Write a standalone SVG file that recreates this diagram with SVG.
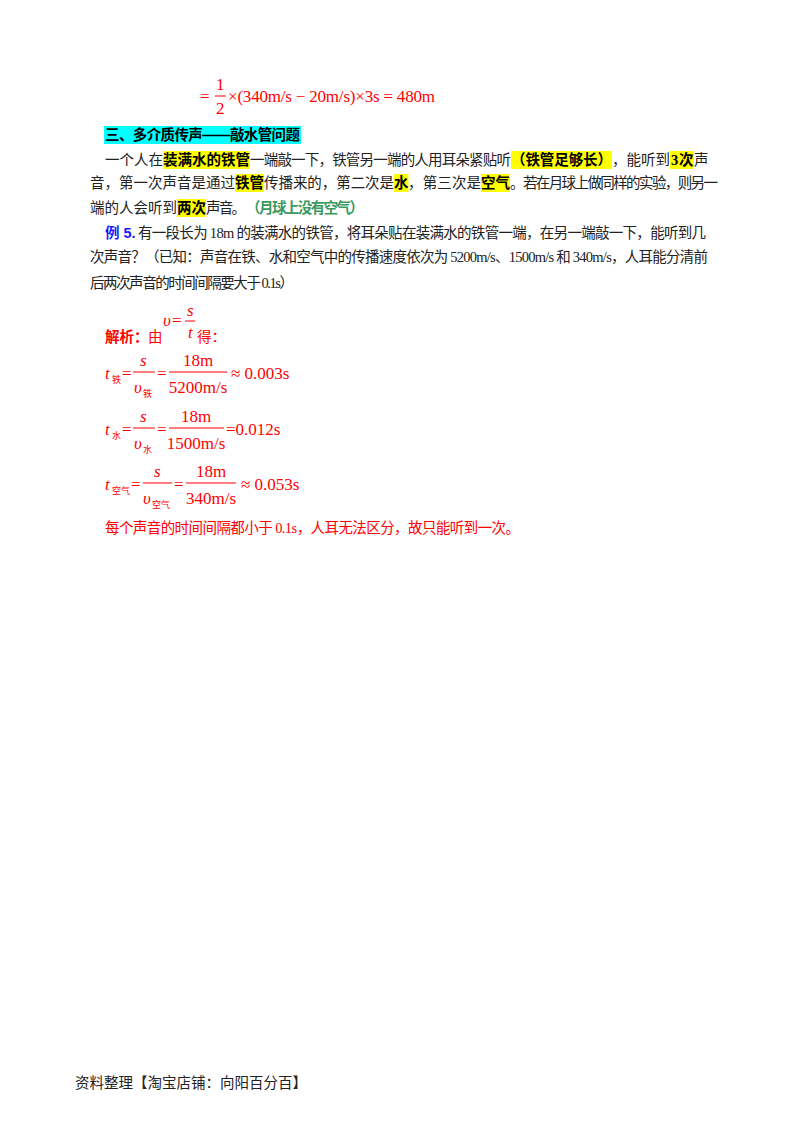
<svg xmlns="http://www.w3.org/2000/svg" width="800" height="1132" viewBox="0 0 800 1132">
<style>
.b{font-family:"Liberation Serif","Noto Sans CJK SC",sans-serif;font-size:14.5px;fill:#222}
.k{font-weight:bold;fill:#000;font-family:"Liberation Sans","Noto Sans CJK SC",sans-serif}
.m{font-family:"Liberation Serif",serif;font-size:17px;fill:#f00}
.i{font-style:italic}
.r{fill:#f00}
.sub{font-family:"Noto Sans CJK SC",sans-serif;font-size:9px;fill:#f00}
.hl{fill:#ffff00}
.bar{stroke:#f00;stroke-width:1}
</style>
<rect width="800" height="1132" fill="#fff"/>
<g id="formula0" class="m">
<text x="200" y="102">=</text>
<text x="216" y="90">1</text>
<line class="bar" x1="215" y1="96" x2="226" y2="96"/>
<text x="216" y="114">2</text>
<text x="228" y="102" textLength="207">×(340m/s − 20m/s)×3s = 480m</text>
</g>
<g id="heading">
<rect x="104" y="126" width="197" height="18" fill="#00ffff"/>
<text class="b k" x="105" y="140" textLength="195">三、多介质传声——敲水管问题</text>
</g>
<g id="para1">
<rect class="hl" x="163" y="151" width="87" height="18"/>
<rect class="hl" x="511" y="151" width="101" height="18"/>
<rect class="hl" x="670" y="151" width="24" height="18"/>
<rect class="hl" x="235" y="174" width="29" height="18"/>
<rect class="hl" x="394" y="174" width="14.5" height="18"/>
<rect class="hl" x="481" y="174" width="29" height="18"/>
<rect class="hl" x="177" y="199" width="29" height="18"/>
<text class="b" x="105" y="165">一个人在</text>
<text class="b k" x="163" y="165" textLength="87">装满水的铁管</text>
<text class="b" x="250" y="165" textLength="261">一端敲一下，铁管另一端的人用耳朵紧贴听</text>
<text class="b k" x="511" y="165" textLength="101">（铁管足够长）</text>
<text class="b" x="612" y="165" textLength="58">，能听到</text>
<text class="b k" x="671" y="165" style="font-family:'Liberation Serif',serif">3</text>
<text class="b k" x="679" y="165">次</text>
<text class="b" x="694" y="165">声</text>
<text class="b" x="90" y="188" textLength="145">音，第一次声音是通过</text>
<text class="b k" x="235" y="188" textLength="29">铁管</text>
<text class="b" x="264" y="188" textLength="130">传播来的，第二次是</text>
<text class="b k" x="394" y="188">水</text>
<text class="b" x="408" y="188" textLength="73">，第三次是</text>
<text class="b k" x="481" y="188" textLength="29">空气</text>
<text class="b" x="510" y="188" textLength="208">。若在月球上做同样的实验，则另一</text>
<text class="b" x="90" y="213" textLength="87">端的人会听到</text>
<text class="b k" x="177" y="213" textLength="29">两次</text>
<text class="b" x="206" y="213" textLength="40">声音。</text>
<text class="b k" x="246" y="213" textLength="118" style="fill:#3a9a60">（月球上没有空气）</text>
</g>
<g id="example5">
<text class="b k" x="105" y="238" style="fill:#1a1aff">例 5.</text>
<text class="b" x="138" y="238" textLength="568">有一段长为 18m 的装满水的铁管，将耳朵贴在装满水的铁管一端，在另一端敲一下，能听到几</text>
<text class="b" x="90" y="262" textLength="618">次声音？（已知：声音在铁、水和空气中的传播速度依次为 5200m/s、1500m/s 和 340m/s，人耳能分清前</text>
<text class="b" x="90" y="288" textLength="204">后两次声音的时间间隔要大于 0.1s）</text>
</g>
<g id="solution">
<text class="b k" x="105" y="342" style="fill:#f00">解析：</text>
<text class="b r" x="148" y="342">由</text>
<text class="m i" x="163" y="326" font-size="15">υ</text>
<text class="m" x="172" y="326" font-size="15">=</text>
<text class="m i" x="187" y="316" font-size="15">s</text>
<line class="bar" x1="185" y1="321" x2="195" y2="321"/>
<text class="m i" x="188" y="338" font-size="15">t</text>
<text class="b r" x="197" y="342">得：</text>

<text class="m i" x="105" y="379">t</text><text class="sub" x="112" y="383">铁</text>
<text class="m" x="122" y="379">=</text>
<text class="m i" x="140" y="366">s</text>
<line class="bar" x1="133" y1="372" x2="155" y2="372"/>
<text class="m i" x="134" y="393">υ</text><text class="sub" x="143" y="397">铁</text>
<text class="m" x="157" y="379">=</text>
<text class="m" x="198" y="366" text-anchor="middle">18m</text>
<line class="bar" x1="169" y1="372" x2="227" y2="372"/>
<text class="m" x="198" y="393" text-anchor="middle">5200m/s</text>
<text class="m" x="231" y="379">≈ 0.003s</text>

<text class="m i" x="105" y="435">t</text><text class="sub" x="112" y="439">水</text>
<text class="m" x="122" y="435">=</text>
<text class="m i" x="140" y="422">s</text>
<line class="bar" x1="133" y1="428" x2="155" y2="428"/>
<text class="m i" x="134" y="449">υ</text><text class="sub" x="143" y="453">水</text>
<text class="m" x="157" y="435">=</text>
<text class="m" x="196" y="422" text-anchor="middle">18m</text>
<line class="bar" x1="169" y1="428" x2="224" y2="428"/>
<text class="m" x="196" y="449" text-anchor="middle">1500m/s</text>
<text class="m" x="226" y="435">=0.012s</text>

<text class="m i" x="105" y="490">t</text><text class="sub" x="112" y="494">空气</text>
<text class="m" x="131" y="490">=</text>
<text class="m i" x="154" y="477">s</text>
<line class="bar" x1="143" y1="483" x2="172" y2="483"/>
<text class="m i" x="143" y="504">υ</text><text class="sub" x="152" y="508">空气</text>
<text class="m" x="174" y="490">=</text>
<text class="m" x="211" y="477" text-anchor="middle">18m</text>
<line class="bar" x1="186" y1="483" x2="236" y2="483"/>
<text class="m" x="211" y="504" text-anchor="middle">340m/s</text>
<text class="m" x="241" y="490">≈ 0.053s</text>

<text class="b r" x="105" y="533" textLength="415">每个声音的时间间隔都小于 0.1s，人耳无法区分，故只能听到一次。</text>
</g>
<text class="b" x="75" y="1088" font-size="12">资料整理【淘宝店铺：向阳百分百】</text>
</svg>
